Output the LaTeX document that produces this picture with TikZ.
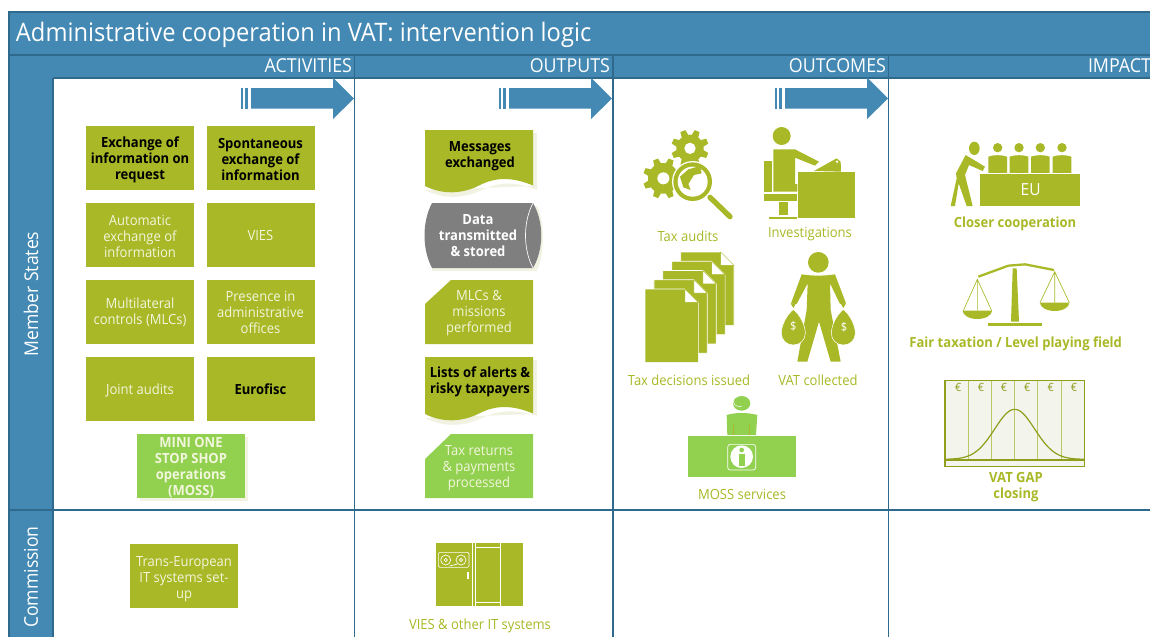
\documentclass[tikz,border=0pt]{standalone}
\usepackage{fontspec}
\setmainfont[FakeStretch=0.93]{Open Sans}
\definecolor{hdr}{HTML}{4389B4}
\definecolor{hline}{HTML}{2F6A8C}
\definecolor{olive}{HTML}{A8B826}
\definecolor{lime}{HTML}{92D050}
\definecolor{greyb}{HTML}{7F7F7F}
\definecolor{paleedge}{HTML}{F1F2E2}
\definecolor{paletxt}{HTML}{F2F6DC}
\definecolor{gapline}{HTML}{8F9E1B}
\definecolor{gapfill}{HTML}{F3F4EC}
\definecolor{gapbar}{HTML}{BCC966}
\tikzset{
  x=0.75pt,y=-0.75pt,
  base/.style={inner sep=0pt,outer sep=0pt,align=center,font=\fontsize{10.5}{12}\selectfont},
  box/.style={base,minimum width=81pt,minimum height=48pt,fill=olive,text=paletxt},
  textonly/.style={base,text=paletxt},
  boldbox/.style={box,text=black,font=\fontsize{10.5}{12}\selectfont\bfseries},
  boldtext/.style={base,text=black,font=\fontsize{10.5}{12}\selectfont\bfseries},
  limebox/.style={base,minimum width=81pt,minimum height=48pt,fill=lime},
  limetext/.style={base,text=paletxt,font=\fontsize{10.5}{12}\selectfont\bfseries},
  shapetxt/.style={base,text=paletxt},
  shapebold/.style={base,text=black,font=\fontsize{10.5}{12}\selectfont\bfseries},
  greylabel/.style={base,text=olive},
  greenbold/.style={base,text=olive,font=\fontsize{10.5}{12}\selectfont\bfseries},
  headtxt/.style={base,anchor=east,text=white,font=\fontsize{14.4}{16}\selectfont},
  sidetxt/.style={base,rotate=90,text=white,font=\fontsize{14.2}{16}\selectfont},
  rule/.style={hline,line width=0.9pt},
  ic/.style={fill=olive,draw=none},
  icw/.style={fill=olive,draw=white,line width=0.5pt},
  zoomed/.style={x=0.25pt,y=-0.25pt},
}
\newcommand{\flowarrow}[1]{%
  \begin{scope}[shift={(#1,0)}]
    \fill[hdr] (241,88) rectangle (243,108.5);
    \fill[hdr] (245,88) rectangle (248,108.5);
    \fill[hdr] (251,88) -- (333,88) -- (333,77.5) -- (354,98.5) -- (333,119) -- (333,108.5) -- (251,108.5) -- cycle;
  \end{scope}}
\newcommand{\gearicon}[4]{% x,y,body,hole
  \fill[olive] (#1,#2) circle (#3);
  \foreach \a in {0,45,...,315}{
    \fill[olive,shift={(#1,#2)},rotate=\a+22.5] (#3-4,-11) -- (#3+15,-8) -- (#3+15,8) -- (#3-4,11) -- cycle;}
  \fill[white] (#1,#2) circle (#4);}
\newcommand{\seated}[1]{%
  \fill[olive] (#1,83) circle (14);
  \fill[olive] (#1-28,110) .. controls (#1-12,104) and (#1+12,104) .. (#1+28,110) -- (#1+28,160) -- (#1-28,160) -- cycle;}
\newcommand{\moneybag}[1]{%
  \fill[olive,draw=white,line width=0.4pt] (#1,208) .. controls (#1-20,225) and (#1-36,255) .. (#1-36,280) .. controls (#1-36,300) and (#1-20,315) .. (#1,315) .. controls (#1+20,315) and (#1+36,300) .. (#1+36,280) .. controls (#1+36,255) and (#1+20,225) .. (#1,208) -- cycle;
  \fill[olive] (#1-8,190) -- (#1+8,190) -- (#1,204) -- cycle;}
\begin{document}
\begin{tikzpicture}
\useasboundingbox (0,0) rectangle (1150,637);
% frame
\fill[hdr] (9,12) rectangle (1150,78);
\fill[hdr] (9,78) rectangle (53,637);
\draw[rule] (1150,12) -- (9,12) -- (9,637);
\draw[rule] (9,55) -- (1150,55);
\draw[rule] (53,78) -- (1150,78);
\draw[rule] (53,78) -- (53,637);
\draw[rule] (9,510) -- (1150,510);
\draw[rule] (354.5,55) -- (354.5,637);
\draw[rule] (613,55) -- (613,637);
\draw[rule] (888.5,55) -- (888.5,637);
\node[base,anchor=base west,text=white,font=\fontsize{19.1}{22}\selectfont] (title) at (16,41) {Administrative cooperation in VAT: intervention logic};
\node[headtxt] (hact) at (352,66) {ACTIVITIES};
\node[headtxt] (hout) at (610,66) {OUTPUTS};
\node[headtxt] (hcome) at (886,66) {OUTCOMES};
\node[base,anchor=west,text=white,font=\fontsize{14.4}{16}\selectfont] (himp) at (1088,66) {IMPACT};
\node[sidetxt] (sms) at (31,294) {Member States};
\node[sidetxt] (scom) at (31,577) {Commission};
\flowarrow{0}
\flowarrow{258}
\flowarrow{534}
% activities
\node[box] (b1) at (140,158) {};
\node[box] (b2) at (260.5,158) {};
\node[box] (b3) at (140,235) {};
\node[box] (b4) at (260.5,235) {};
\node[box] (b5) at (140,312) {};
\node[box] (b6) at (260.5,312) {};
\node[box] (b7) at (140,389) {};
\node[box] (b8) at (260.5,389) {};
\node[boldtext] (a1) at (140,160) {Exchange of\\information on\\request};
\node[boldtext] (a2) at (260.5,159) {Spontaneous\\exchange of\\information};
\node[textonly] (a3) at (140,236) {Automatic\\exchange of\\information};
\node[textonly] (a4) at (260.5,235) {VIES};
\node[textonly] (a5) at (140,312.5) {Multilateral\\controls (MLCs)};
\node[textonly] (a6) at (260.5,312) {Presence in\\administrative\\offices};
\node[textonly] (a7) at (140,390) {Joint audits};
\node[boldtext] (a8) at (260.5,389) {Eurofisc};
\fill[paleedge] (140,437) rectangle (248,501);
\node[limebox] (b9) at (191,466) {};
\node[limetext] (a9) at (191,467.5) {MINI ONE\\STOP SHOP\\operations\\(MOSS)};
\node[box] (c0) at (184,575.5) {};
\node[textonly] (c1) at (184,579) {Trans-European\\IT systems set-\\up};
% outputs
\fill[paleedge] (425,190) .. controls (445,200) and (465,198) .. (482,190) .. controls (500,181) and (518,182) .. (537,190) -- (537,133) -- (533,133) -- (533,186) -- cycle;
\fill[olive] (425,130) -- (533,130) -- (533,185.5) .. controls (515,178) and (498,176) .. (480,185) .. controls (463,194) and (443,195) .. (425,186) -- cycle;
\node[shapebold] (o1) at (480,156) {Messages\\exchanged};
\fill[paleedge] (432,206) -- (537,206) .. controls (545,222) and (545,254) .. (537,271) -- (432,271) -- cycle;
\fill[greyb] (432,203) -- (533,203) .. controls (544,222) and (544,249) .. (533,268) -- (432,268) .. controls (422,249) and (422,222) .. (432,203) -- cycle;
\draw[white,line width=0.5pt] (533,203) .. controls (523,222) and (523,249) .. (533,268);
\node[shapebold,text=white] (o2) at (478,235.5) {Data\\transmitted\\\& stored};
\fill[olive] (451,280) -- (533,280) -- (533,344) -- (425,344) -- (425,304) -- cycle;
\node[shapetxt] (o3) at (479,313) {MLCs \&\\missions\\performed};
\fill[paleedge] (425,418) .. controls (445,428) and (465,426) .. (482,418) .. controls (500,409) and (518,410) .. (537,416) -- (537,360) -- (533,360) -- (533,414) -- cycle;
\fill[olive] (425,357) -- (533,357) -- (533,413.5) .. controls (515,406) and (498,404) .. (480,413) .. controls (463,422) and (443,423) .. (425,414) -- cycle;
\node[shapebold] (o4) at (480,381.5) {Lists of alerts \&\\risky taxpayers};
\fill[lime] (451,434) -- (533,434) -- (533,498) -- (425,498) -- (425,459) -- cycle;
\node[shapetxt] (o5) at (479,468.5) {Tax returns\\\& payments\\processed};
% VIES icon
\begin{scope}[shift={(400,280)},zoomed]
  \fill[olive] (108,790) rectangle (370,978);
  \draw[white,line width=0.7pt] (218,790) -- (218,978) (226,790) -- (226,978) (300,790) -- (300,978);
  \draw[white,line width=0.7pt] (226,802) -- (300,802) (226,968) -- (300,968);
  \draw[white,line width=0.5pt,rounded corners=1pt] (115,817) rectangle (207,862);
  \draw[white,line width=0.5pt] (137,840) circle (15) (183,840) circle (15) (137,840) circle (5) (183,840) circle (5);
  \draw[white,line width=0.5pt] (148,858) -- (172,852);
  \draw[white,line width=1pt] (204,875) -- (204,897);
\end{scope}
\node[greylabel] (l1) at (480,626) {VIES \& other IT systems};
% tax audits
\begin{scope}[shift={(620,110)},zoomed]
  \gearicon{130}{205}{46}{18}
  \gearicon{210}{115}{41}{17}
  \draw[line cap=round,olive,line width=4pt] (270,262) -- (330,320);
  \fill[white] (218,215) circle (62);
  \fill[olive] (218,215) circle (58);
  \fill[white] (218,215) circle (45);
  \fill[olive] (205,178) -- (240,168) -- (245,190) -- (222,195) -- (205,222) -- (212,240) -- (190,232) -- (180,200) -- cycle;
\end{scope}
\node[greylabel] (l2) at (688,236) {Tax audits};
% investigations
\begin{scope}[shift={(620,110)},zoomed]
  \fill[ic] (485,78) circle (27);
  \fill[ic] (460,118) -- (525,118) -- (597,155) -- (585,167) -- (525,143) -- (525,222) -- (532,222) -- (532,245) -- (460,245) -- cycle;
  \fill[ic] (432,153) rectangle (455,245);
  \fill[ic] (432,252) rectangle (532,272);
  \fill[ic] (478,275) rectangle (505,315);
  \fill[ic] (448,320) rectangle (532,326);
  \fill[ic] (535,187) rectangle (705,323);
  \fill[ic] (582,183) -- (650,145) -- (662,155) -- (663,185) -- cycle;
  \fill[white] (651,155) circle (4);
\end{scope}
\node[greylabel] (l3) at (810,234.5) {Investigations};
% documents
\begin{scope}[shift={(620,240)},zoomed]
  \foreach \d in {4,3,2,1,0}{
    \begin{scope}[shift={(\d*26.75,-\d*27.75)}]
      \fill[icw] (75,147) -- (195,147) -- (235,187) -- (235,367) -- (75,367) -- cycle;
      \fill[white,draw=olive,line width=0.3pt] (195,147) -- (235,187) -- (195,187) -- cycle;
    \end{scope}}
\end{scope}
\node[greylabel] (l4) at (689,380) {Tax decisions issued};
% VAT collected
\begin{scope}[shift={(620,240)},zoomed]
  \fill[ic] (595,67) circle (31);
  \fill[ic] (545,103) .. controls (575,108) and (615,108) .. (645,103) -- (678,190) -- (660,192) -- (630,130) -- (632,210) -- (662,365) -- (632,365) -- (597,245) -- (562,365) -- (532,365) -- (560,210) -- (563,130) -- (530,192) -- (513,190) -- cycle;
  \moneybag{520}
  \moneybag{670}
  \node[base,text=white,font=\fontsize{9}{10}\selectfont] (d1) at (520,260) {\$};
  \node[base,text=white,font=\fontsize{9}{10}\selectfont] (d2) at (672,262) {\$};
\end{scope}
\node[greylabel] (l5) at (818,380) {VAT collected};
% MOSS services
\begin{scope}[shift={(620,240)},zoomed]
  \fill[lime] (365,490) ellipse (26 and 22);
  \draw[white,line width=0.4pt] (342,480) .. controls (338,492) and (345,500) .. (365,500);
  \fill[lime] (320,525) .. controls (345,517) and (385,517) .. (412,525) -- (408,585) -- (322,585) -- cycle;
  \draw[olive,line width=0.4pt] (340,555) -- (340,585) (388,555) -- (388,585);
  \fill[lime] (203,587) rectangle (527,710);
  \draw[white,line width=0.5pt,rounded corners=2pt] (323,613) rectangle (407,690);
  \fill[white] (365,650) circle (34);
  \fill[lime] (365,630) circle (7);
  \fill[lime] (356,641) rectangle (374,677);
\end{scope}
\node[greylabel] (l6) at (742,494.5) {MOSS services};
% EU
\begin{scope}[shift={(900,120)},zoomed]
  \fill[ic] (223,85) ellipse (16 and 20);
  \fill[ic] (197,105) -- (255,140) -- (248,153) -- (207,135) -- (195,165) -- (218,258) -- (200,258) -- (176,190) -- (165,258) -- (152,258) -- (170,175) -- (168,160) -- cycle;
  \seated{293}
  \seated{357}
  \seated{421}
  \seated{486}
  \fill[icw] (238,160) rectangle (541,260);
  \node[base,text=white,font=\fontsize{12.5}{14}\selectfont] (eu) at (392,210) {EU};
\end{scope}
\node[greenbold] (l7) at (1015,224) {Closer cooperation};
% scales
\begin{scope}[shift={(900,120)},zoomed]
  \draw[olive,line width=1.7pt] (235,470) -- (325,437) -- (375,433) -- (462,450);
  \fill[ic] (338,445) -- (350,445) -- (357,605) -- (333,605) -- cycle;
  \fill[ic] (265,608) rectangle (427,618);
  \draw[olive,line width=0.5pt] (190,572) -- (232,478) -- (275,572) (232,478) -- (232,572);
  \draw[olive,line width=0.5pt] (420,548) -- (464,455) -- (508,548) (464,455) -- (464,548);
  \fill[ic] (188,572) arc[start angle=180,end angle=360,x radius=44,y radius=-25] -- cycle;
  \fill[ic] (420,548) arc[start angle=180,end angle=360,x radius=44,y radius=-25] -- cycle;
\end{scope}
\node[greenbold] (l8) at (1015.7,344) {Fair taxation / Level playing field};
% VAT gap
\begin{scope}[shift={(930,370)},zoomed]
  \fill[gapfill] (45,32) rectangle (463,290);
  \foreach \v in {116,185,254,323,394}{\draw[gapbar,line width=0.8pt] (\v,32) -- (\v,270);}
  \foreach \v/\n in {85/e1,153/e2,222/e3,292/e4,362/e5,432/e6}{
    \node[base,text=gapline,font=\fontsize{8.5}{10}\selectfont] (\n) at (\v,52) {€};}
  \draw[gapline,line width=0.9pt] plot[domain=45:463,samples=90,smooth] (\x,{268-150*exp(-0.5*((\x-254)/60)^2)});
  \draw[gapline,line width=1pt] (45,270) -- (463,270);
  \draw[gapline,line width=1pt] (45,32) rectangle (463,290);
\end{scope}
\node[greenbold] (l9) at (1016,487) {VAT GAP\\closing};
\end{tikzpicture}
\end{document}
